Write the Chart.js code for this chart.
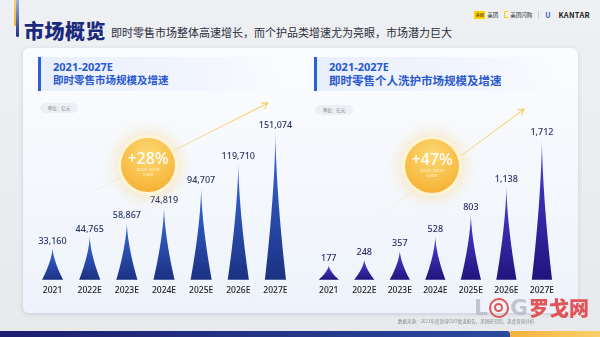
<!DOCTYPE html>
<html lang="zh">
<head>
<meta charset="UTF-8">
<title>市场概览</title>
<script src="https://cdn.jsdelivr.net/npm/chart.js@4.4.0/dist/chart.umd.min.js"></script>
<style>
* { margin: 0; padding: 0; box-sizing: border-box; }
body {
  width: 600px; height: 337px; overflow: hidden; position: relative;
  font-family: "Noto Sans CJK SC", "Noto Sans", sans-serif;
  background: linear-gradient(180deg, #eef0f3 0%, #e7e9ed 100%);
}
.accent-y { position: absolute; left: 14px; top: 0; width: 2px; height: 26px; background: linear-gradient(180deg, #f7d46a, #e9b93a); }
.accent-b { position: absolute; left: 16px; top: 0; width: 3px; height: 37px; border-radius: 0 0 2px 2px; background: linear-gradient(180deg, #9fb2e6, #1f2f86); }
.title { position: absolute; left: 24px; top: 16px; font-size: 20px; font-weight: 900; color: #1c2a7c; letter-spacing: 0.5px; }
.subtitle { position: absolute; left: 111px; top: 24px; font-size: 11px; color: #2a2d3a; }
.logos { position: absolute; right: 10px; top: 9px; display: flex; align-items: center; font-size: 5.5px; color: #333; }
.logos .mt { background: #ffd100; color: #222; font-size: 4px; padding: 1px 1.5px; margin-right: 2px; }
.logos .sg { width: 4px; height: 7px; border: 1.5px solid #ffd100; border-right: none; margin: 0 2px 0 6px; }
.logos .sep { width: 1px; height: 8px; background: #ccc; margin: 0 6px; }
.logos .u { color: #3a5bc7; font-weight: 700; font-size: 7px; margin-right: 8px; }
.logos .kantar { font-size: 7.5px; font-weight: 700; color: #222; letter-spacing: 0.3px; }
.panel {
  position: absolute; left: 23px; top: 48px; width: 555px; height: 265px; border-radius: 6px;
  background: linear-gradient(180deg, #fbfcfe 0%, #eef3fb 100%);
  box-shadow: 0 1px 4px rgba(60, 70, 100, 0.18);
}
.head { position: absolute; height: 34px; padding-left: 12px; border-left: 3px solid #2b5fd8;
  background: linear-gradient(90deg, #e8effc 0%, #f3f6fd 70%, rgba(250,252,255,0) 100%); }
.head .yr { font-size: 11px; font-weight: 700; color: #2a58cf; line-height: 13px; margin-top: 3px; font-family: "Noto Sans", sans-serif; }
.head .nm { font-weight: 700; color: #2a58cf; line-height: 14px; }
.pill { position: absolute; height: 10px; width: 38px; border-radius: 5px; background: #eceff4; font-size: 4.5px; color: #777; text-align: center; line-height: 10px; }
.bubble {
  position: absolute; width: 54px; height: 54px; border-radius: 50%; text-align: center; color: #fff;
  background: radial-gradient(circle at 50% 30%, #fcd874 0%, #f8bd45 60%, #f3a62b 100%);
  box-shadow: 0 0 0 3px rgba(255, 244, 214, 0.95), 0 0 14px 6px rgba(250, 212, 130, 0.45);
}
.bubble .pct { font-family: "Noto Sans", sans-serif; font-size: 16px; font-weight: 500; margin-top: 11px; line-height: 18px; }
.bubble .sm { font-size: 4px; line-height: 5px; color: #fff3d6; }
.chart-box { position: absolute; }
.source { position: absolute; left: 398px; top: 318px; font-size: 4.5px; color: #888; }
.foot-a { position: absolute; left: 0; top: 331px; width: 510px; height: 6px; border-radius: 0 3px 0 0; background: linear-gradient(90deg, #1d1d6e, #2b4a9c); }
.foot-b { position: absolute; left: 510px; top: 331px; width: 90px; height: 6px; background: linear-gradient(90deg, #f5b23c, #f8d06a); }
.mark { position: absolute; left: 474px; top: 293px; display: flex; align-items: center; opacity: 0.85; }
.mark .lg { font-family: "DejaVu Sans", sans-serif; font-size: 22px; color: #b9bcc4; font-weight: 700; }
.mark .ring { width: 20px; height: 20px; border-radius: 50%; border: 2.5px solid #e0393c; margin: 0 1px; position: relative; }
.mark .ring::after { content: ""; position: absolute; left: 3px; top: 3px; width: 9px; height: 9px; border-radius: 50%; border: 2px solid #e0393c; box-sizing: border-box; }
.mark .cn { font-size: 20px; font-weight: 900; color: #e0393c; margin-left: 1px; }
</style>
</head>
<body>
<div class="accent-y"></div>
<div class="accent-b"></div>
<div class="title">市场概览</div>
<div class="subtitle">即时零售市场整体高速增长，而个护品类增速尤为亮眼，市场潜力巨大</div>
<div class="logos">
  <span class="mt">美团</span><span>美团</span>
  <span class="sg"></span><span>美团闪购</span>
  <span class="sep"></span><span class="u">U</span>
  <span class="kantar">KANTAR</span>
</div>

<div class="panel"></div>

<div class="head" style="left:38px; top:57px; width:245px;">
  <div class="yr">2021-2027E</div>
  <div class="nm" style="font-size:10.5px;">即时零售市场规模及增速</div>
</div>
<div class="head" style="left:314px; top:57px; width:245px;">
  <div class="yr">2021-2027E</div>
  <div class="nm" style="font-size:11.5px;">即时零售个人洗护市场规模及增速</div>
</div>
<div class="pill" style="left:40px; top:103px;">单位：亿元</div>
<div class="pill" style="left:315px; top:105px;">单位：亿元</div>

<div class="chart-box" style="left:34px; top:110px; width:260px; height:194px;"><canvas id="left"></canvas></div>
<div class="chart-box" style="left:311px; top:110px; width:249px; height:194px;"><canvas id="right"></canvas></div>

<svg style="position:absolute; left:0; top:0;" width="600" height="337">
  <defs>
    <linearGradient id="ga" x1="70" y1="203" x2="268" y2="103" gradientUnits="userSpaceOnUse">
      <stop offset="0" stop-color="#f4d36b" stop-opacity="0"/>
      <stop offset="1" stop-color="#f2c743" stop-opacity="1"/>
    </linearGradient>
    <linearGradient id="gb" x1="357" y1="232" x2="524" y2="109" gradientUnits="userSpaceOnUse">
      <stop offset="0" stop-color="#f4d36b" stop-opacity="0"/>
      <stop offset="1" stop-color="#f2c743" stop-opacity="1"/>
    </linearGradient>
  </defs>
  <line x1="70" y1="203" x2="267" y2="103.5" stroke="url(#ga)" stroke-width="1"/>
  <polyline points="261,103 268,103 264.5,109" fill="none" stroke="#f2c743" stroke-width="1"/>
  <line x1="357" y1="232" x2="523" y2="110" stroke="url(#gb)" stroke-width="1"/>
  <polyline points="517,110 524,109 521.5,115.5" fill="none" stroke="#f2c743" stroke-width="1"/>
</svg>

<div class="bubble" style="left:121px; top:138px;">
  <div class="pct">+28%</div>
  <div class="sm">2022E-2027E</div>
  <div class="sm">CAGR</div>
</div>
<div class="bubble" style="left:405px; top:139px;">
  <div class="pct">+47%</div>
  <div class="sm">2022E-2027E</div>
  <div class="sm">CAGR</div>
</div>

<div class="source">数据来源：2021年度咨询O2O渠道报告，美团研究院，凯度咨询分析</div>
<div class="mark"><span class="lg">L</span><span class="ring"></span><span class="lg">G</span><span class="cn">罗戈网</span></div>
<div class="foot-a"></div>
<div class="foot-b"></div>

<script>
// data
const years = ["2021", "2022E", "2023E", "2024E", "2025E", "2026E", "2027E"];
const marketSize = [33160, 44765, 58867, 74819, 94707, 119710, 151074];
const personalCare = [177, 248, 357, 528, 803, 1138, 1712];

// draws each bar element as a tapered spike plus its value label
const spikePlugin = {
  id: "spikes",
  afterDatasetsDraw(chart, args, opts) {
    const ctx = chart.ctx;
    const meta = chart.getDatasetMeta(0);
    const values = chart.data.datasets[0].data;
    ctx.save();
    meta.data.forEach((bar, i) => {
      const x = bar.x, y = bar.y, base = bar.base, half = bar.width / 2;
      const h = base - y;
      const g = ctx.createLinearGradient(0, base, 0, y);
      g.addColorStop(0, opts.bottom);
      g.addColorStop(1, opts.top);
      // half width shrinks as (1-t)^1.6 going up
      ctx.beginPath();
      const n = 30;
      for (let k = 0; k <= n; k++) {
        const t = k / n;
        const px = x - half * Math.pow(1 - t, 1.6);
        const py = base - h * t;
        if (k === 0) ctx.moveTo(px, py); else ctx.lineTo(px, py);
      }
      for (let k = n - 1; k >= 0; k--) {
        const t = k / n;
        ctx.lineTo(x + half * Math.pow(1 - t, 1.6), base - h * t);
      }
      ctx.closePath();
      ctx.fillStyle = g;
      ctx.fill();

      ctx.fillStyle = opts.labelColor;
      ctx.font = '500 9px "Noto Sans"';
      ctx.textAlign = "center";
      ctx.textBaseline = "bottom";
      ctx.fillText(values[i].toLocaleString("en-US"), x, y - 2);
    });
    ctx.restore();
  }
};

function makeChart(id, values, yMax, colors) {
  return new Chart(document.getElementById(id), {
    type: "bar",
    data: {
      labels: years,
      datasets: [{ data: values, backgroundColor: "rgba(0,0,0,0)", categoryPercentage: 1, barPercentage: 0.57 }]
    },
    plugins: [spikePlugin],
    options: {
      responsive: true,
      maintainAspectRatio: false,
      animation: false,
      layout: { padding: { top: 0, bottom: 2, left: 0, right: 0 } },
      plugins: {
        legend: { display: false },
        tooltip: { enabled: false },
        spikes: colors
      },
      scales: {
        y: { display: false, min: 0, max: yMax },
        x: {
          grid: { display: false, drawTicks: false },
          border: { display: false },
          ticks: { color: "#222", padding: 6, font: { family: "Noto Sans", size: 8.5, weight: 500 } }
        }
      }
    }
  });
}

makeChart("left", marketSize, 174000, { bottom: "#1b3182", top: "#3a6cdc", labelColor: "#2b3766" });
makeChart("right", personalCare, 2064, { bottom: "#22147c", top: "#4a40d6", labelColor: "#2a2f6a" });
</script>
</body>
</html>
